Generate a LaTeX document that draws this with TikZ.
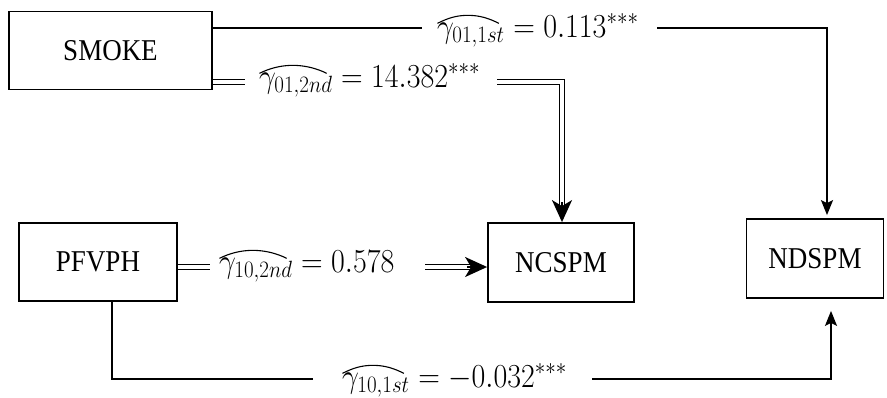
\RequirePackage{fix-cm}
\documentclass[tikz,border=0pt]{standalone}
\usepackage{fontspec}
\setmainfont{Liberation Serif}
\usetikzlibrary{arrows.meta}
\newcommand\labfont{\fontsize{30}{35}\selectfont}
\newcommand\vstretch[1]{\scalebox{1}[1.12]{#1}}
\begin{document}
\begin{tikzpicture}[x=1pt,y=-1pt,
  box/.style={draw, line width=1.8pt, inner sep=0pt, font=\fontsize{27}{31}\selectfont},
  ln/.style={line width=1.8pt},
  dbl/.style={double, line width=1.4pt, double distance=3.2pt, line join=miter},
  tipa/.style={line width=1.8pt, -{Stealth[length=15pt,width=12pt,inset=3pt]}},
  tipd/.style={line width=1.8pt, -{Stealth[length=22pt,width=20pt,inset=6pt]}},
  lab/.style={inner sep=0pt, anchor=base west, font=\labfont},
  hatln/.style={line width=1.1pt}]
\useasboundingbox[fill=white] (0,0) rectangle (887,397);
\newcommand\hatover[1]{%
  \draw[hatln] ([xshift=0.5pt,yshift=-1pt]#1.north west)
     .. controls +(10,-5) and +(-12,0) .. ([xshift=-3pt,yshift=7pt]#1.north)
     .. controls +(12,0) and +(-10,-5) .. ([xshift=-6pt,yshift=-1pt]#1.north east);}
% boxes
\node[box, minimum width=203pt, minimum height=78pt] (smoke) at (110.5,50.5) {\vstretch{SMOKE}};
\node[box, minimum width=158pt, minimum height=78pt] (pfvph) at (98,262) {\vstretch{PFVPH}};
\node[box, minimum width=146pt, minimum height=79pt] (ncspm) at (561,262.5) {\vstretch{NCSPM}};
\node[box, minimum width=137pt, minimum height=79pt] (ndspm) at (815,258.5) {\vstretch{NDSPM}};
% labels
\node[lab] (g1) at (437,37) {\vstretch{$\gamma_{01,1st}$}};
\node[lab] (v1) at (g1.base east) {\vstretch{${}= 0.113^{***}$}};
\node[lab] (g2) at (259,87) {\vstretch{$\gamma_{01,2nd}$}};
\node[lab] (v2) at (g2.base east) {\vstretch{${}= 14.382^{***}$}};
\node[lab] (g3) at (219,272) {\vstretch{$\gamma_{10,2nd}$}};
\node[lab] (v3) at (g3.base east) {\vstretch{${}= 0.578$}};
\node[lab] (g4) at (342,387) {\vstretch{$\gamma_{10,1st}$}};
\node[lab] (v4) at (g4.base east) {\vstretch{${}= -0.032^{***}$}};
\hatover{g1}
\hatover{g2}
\hatover{g3}
\hatover{g4}
% coordinates
\coordinate (a1) at (422,28);
\coordinate (a2) at (657,28);
\coordinate (a3) at (827,28);
\coordinate (b1) at (245,82);
\coordinate (b2) at (497,82);
\coordinate (b3) at (562,82);
\coordinate (c1) at (210,267);
\coordinate (c2) at (425,267);
\coordinate (d0) at (112,301);
\coordinate (d1) at (112,379);
\coordinate (d2) at (313,379);
\coordinate (d3) at (592,379);
\coordinate (d4) at (831,379);
% SMOKE -> NDSPM
\draw[ln] (smoke.east |- a1) -- (a1);
\draw[tipa] (a2) -- (a3) -- ([yshift=3pt]a3 |- ndspm.north);
% SMOKE => NCSPM
\draw[dbl] (smoke.east |- b1) -- (b1);
\draw[dbl] (b2) -- (b3) -- ([yshift=14pt]b3 |- ncspm.north);
\draw[tipd] ([yshift=20pt]b3 |- ncspm.north) -- (b3 |- ncspm.north);
% PFVPH => NCSPM
\draw[dbl] (pfvph.east |- c1) -- (c1);
\draw[dbl] (c2) -- ([xshift=-14pt]ncspm.west |- c2);
\draw[tipd] ([xshift=-20pt]ncspm.west |- c2) -- (ncspm.west |- c2);
% PFVPH -> NDSPM
\draw[ln] (d0 |- pfvph.south) -- (d1) -- (d2);
\draw[tipa] (d3) -- (d4) -- ([yshift=-12pt]d4 |- ndspm.south);
\end{tikzpicture}
\end{document}
